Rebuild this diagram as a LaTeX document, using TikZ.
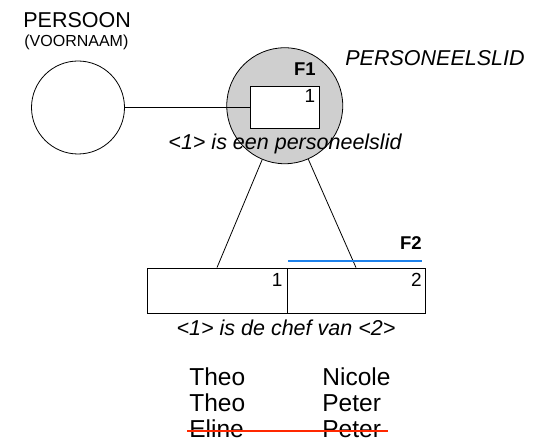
\documentclass[tikz,border=0pt]{standalone}
\usepackage{fontspec}
\setmainfont{Liberation Sans}
\definecolor{objgray}{gray}{0.81}
\definecolor{fblue}{RGB}{30,130,235}
\definecolor{fred}{RGB}{255,40,0}

\begin{document}
\begin{tikzpicture}[x=25pt, y=25pt, line width=0.8pt,
  obj/.style={draw, circle, inner sep=0pt},
  role/.style={draw, rectangle, fill=white, inner sep=0pt},
  big/.style={inner sep=0pt, font=\fontsize{21.5}{24}\selectfont},
  small/.style={inner sep=0pt, font=\fontsize{16}{18}\selectfont},
  num/.style={inner sep=0pt, anchor=base east, font=\fontsize{19}{21}\selectfont},
  fname/.style={inner sep=0pt, anchor=base east, font=\bfseries\fontsize{18.5}{20}\selectfont},
  row/.style={inner sep=0pt, anchor=base west, font=\fontsize{24.5}{26}\selectfont}]
\useasboundingbox (0,0) rectangle (21.52,17.64);

% object type PERSOON
\node[obj, minimum size=93pt] (persoon) at (3.12,13.34) {};
\node[big, anchor=base west] (persoonT) at (0.92,16.52) {PERSOON};
\node[small, anchor=base west] (voornaam) at (0.96,15.76) {(VOORNAAM)};

% PERSONEELSLID with fact type F1
\node[obj, fill=objgray, minimum size=116pt] (pl) at (11.39,13.41) {};
\node[big, anchor=base west, font=\itshape\fontsize{21.5}{24}\selectfont] (plT) at (13.8,15.0) {PERSONEELSLID};
\node[fname] (f1) at (12.64,14.6) {F1};
\node[role, minimum width=69pt, minimum height=42.5pt] (plRol) at (11.39,13.34) {};
\node[num] (plNr) at ([xshift=-4pt,yshift=-16.5pt]plRol.north east) {1};
\draw (persoon) -- (plRol);
\node[big, anchor=base, font=\itshape\fontsize{21.5}{24}\selectfont] (plZin) at (11.4,11.64) {<1> is een personeelslid};

% fact type F2
\node[role, minimum width=140pt, minimum height=45pt] (chef1) at (8.68,6.02) {};
\node[role, minimum width=138pt, minimum height=45pt] (chef2) at (14.24,6.02) {};
\node[num] (chefNr1) at ([xshift=-4.5pt,yshift=-18.5pt]chef1.north east) {1};
\node[num] (chefNr2) at ([xshift=-3.3pt,yshift=-18.5pt]chef2.north east) {2};
\node[fname] (f2) at (16.88,7.64) {F2};
\node[big, anchor=base, font=\itshape\fontsize{21.5}{24}\selectfont] (chefZin) at (11.44,4.2) {<1> is de chef van <2>};
\draw (pl) -- (chef1.north);
\draw (pl) -- (chef2.north);

% uniqueness constraint
\coordinate (uniL) at (11.52,7.2);
\coordinate (uniR) at (16.88,7.2);
\draw[fblue, line width=1.6pt] (uniL) -- (uniR);

% population
\node[row] (theo1) at (7.56,2.2) {Theo};
\node[row] (nicole) at (12.88,2.2) {Nicole};
\node[row] (theo2) at (7.56,1.16) {Theo};
\node[row] (peter1) at (12.88,1.16) {Peter};
\node[row] (eline) at (7.56,0.12) {Eline};
\node[row] (peter2) at (12.88,0.12) {Peter};
\coordinate (strikeL) at (7.48,0.4);
\coordinate (strikeR) at (15.52,0.4);
\draw[fred, line width=1.4pt] (strikeL) -- (strikeR);
\end{tikzpicture}
\end{document}
